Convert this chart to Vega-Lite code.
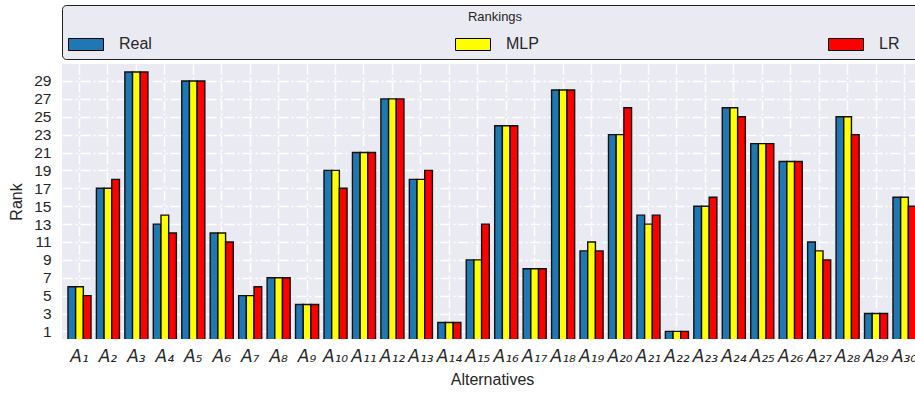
{
  "$schema": "https://vega.github.io/schema/vega-lite/v6.json",
  "usermeta": {"embedOptions": {"actions": false}},
  "autosize": {"type": "none"},
  "padding": {"left": 62, "top": 64, "right": 0, "bottom": 55},
  "width": 853,
  "height": 275,
  "background": "white",
  "config": {
    "view": {"fill": "#EAEAF2", "stroke": null},
    "font": "Liberation Sans"
  },
  "data": {
    "values": [
      {"alt": "A₁", "Real": 6, "MLP": 6, "LR": 5},
      {"alt": "A₂", "Real": 17, "MLP": 17, "LR": 18},
      {"alt": "A₃", "Real": 30, "MLP": 30, "LR": 30},
      {"alt": "A₄", "Real": 13, "MLP": 14, "LR": 12},
      {"alt": "A₅", "Real": 29, "MLP": 29, "LR": 29},
      {"alt": "A₆", "Real": 12, "MLP": 12, "LR": 11},
      {"alt": "A₇", "Real": 5, "MLP": 5, "LR": 6},
      {"alt": "A₈", "Real": 7, "MLP": 7, "LR": 7},
      {"alt": "A₉", "Real": 4, "MLP": 4, "LR": 4},
      {"alt": "A₁₀", "Real": 19, "MLP": 19, "LR": 17},
      {"alt": "A₁₁", "Real": 21, "MLP": 21, "LR": 21},
      {"alt": "A₁₂", "Real": 27, "MLP": 27, "LR": 27},
      {"alt": "A₁₃", "Real": 18, "MLP": 18, "LR": 19},
      {"alt": "A₁₄", "Real": 2, "MLP": 2, "LR": 2},
      {"alt": "A₁₅", "Real": 9, "MLP": 9, "LR": 13},
      {"alt": "A₁₆", "Real": 24, "MLP": 24, "LR": 24},
      {"alt": "A₁₇", "Real": 8, "MLP": 8, "LR": 8},
      {"alt": "A₁₈", "Real": 28, "MLP": 28, "LR": 28},
      {"alt": "A₁₉", "Real": 10, "MLP": 11, "LR": 10},
      {"alt": "A₂₀", "Real": 23, "MLP": 23, "LR": 26},
      {"alt": "A₂₁", "Real": 14, "MLP": 13, "LR": 14},
      {"alt": "A₂₂", "Real": 1, "MLP": 1, "LR": 1},
      {"alt": "A₂₃", "Real": 15, "MLP": 15, "LR": 16},
      {"alt": "A₂₄", "Real": 26, "MLP": 26, "LR": 25},
      {"alt": "A₂₅", "Real": 22, "MLP": 22, "LR": 22},
      {"alt": "A₂₆", "Real": 20, "MLP": 20, "LR": 20},
      {"alt": "A₂₇", "Real": 11, "MLP": 10, "LR": 9},
      {"alt": "A₂₈", "Real": 25, "MLP": 25, "LR": 23},
      {"alt": "A₂₉", "Real": 3, "MLP": 3, "LR": 3},
      {"alt": "A₃₀", "Real": 16, "MLP": 16, "LR": 15}
    ]
  },
  "transform": [{"fold": ["Real", "MLP", "LR"], "as": ["series", "rank"]}],
  "mark": {"type": "bar", "stroke": "#111111", "strokeWidth": 1.4, "clip": true},
  "encoding": {
    "x": {
      "field": "alt", "type": "nominal", "sort": null,
      "scale": {"range": [0, 860], "paddingInner": 0, "paddingOuter": 0.115},
      "axis": {
        "title": "Alternatives", "labelFont": "DejaVu Sans", "labelFontStyle": "italic",
        "labelFontSize": 17, "labelAngle": 0, "labelColor": "#262626", "labelPadding": 9,
        "labelOverlap": false, "domain": false, "ticks": false,
        "grid": true, "bandPosition": 0.5, "gridColor": "white", "gridDash": [10, 3, 2, 3], "gridWidth": 1.5,
        "titleFontSize": 16, "titleFontWeight": "normal", "titleColor": "#262626", "titlePadding": 7
      }
    },
    "xOffset": {
      "field": "series", "type": "nominal", "sort": ["Real", "MLP", "LR"],
      "scale": {"paddingInner": 0, "paddingOuter": 0.35}
    },
    "y": {
      "field": "rank", "type": "quantitative",
      "scale": {"domain": [0.15, 30.9], "zero": false, "nice": false},
      "axis": {
        "title": "Rank", "values": [1, 3, 5, 7, 9, 11, 13, 15, 17, 19, 21, 23, 25, 27, 29],
        "labelFontSize": 15.5, "labelColor": "#262626", "labelPadding": 11,
        "domain": false, "ticks": false,
        "grid": true, "gridColor": "white", "gridDash": [10, 3, 2, 3], "gridWidth": 1.5,
        "titleFontSize": 16, "titleFontWeight": "normal", "titleColor": "#262626", "titlePadding": 9
      }
    },
    "y2": {"datum": 0},
    "color": {
      "field": "series", "type": "nominal", "sort": ["Real", "MLP", "LR"],
      "scale": {"domain": ["Real", "MLP", "LR"], "range": ["#1f77b4", "#ffff00", "#ff0000"]},
      "legend": {
        "title": "Rankings", "orient": "none", "legendX": 0, "legendY": -59,
        "direction": "horizontal", "columns": 3, "columnPadding": 287,
        "titleAnchor": "middle", "titleFontSize": 13, "titleFontWeight": "normal", "titleColor": "#262626", "titlePadding": 2,
        "labelFontSize": 16, "labelColor": "#262626", "labelOffset": 15,
        "symbolType": "M-1,-0.343H1V0.343H-1Z", "symbolSize": 1225,
        "symbolStrokeColor": "black", "symbolStrokeWidth": 1, "symbolOpacity": 1,
        "fillColor": "#EAEAF2", "strokeColor": "#222222", "cornerRadius": 4, "padding": 6,
        "labelExpr": "datum.label == 'LR' ? 'LR\u00a0\u00a0\u00a0\u00a0\u00a0\u200b' : datum.label == 'Real' ? 'Real\u00a0\u00a0\u00a0\u200b' : datum.label"
      }
    }
  }
}
